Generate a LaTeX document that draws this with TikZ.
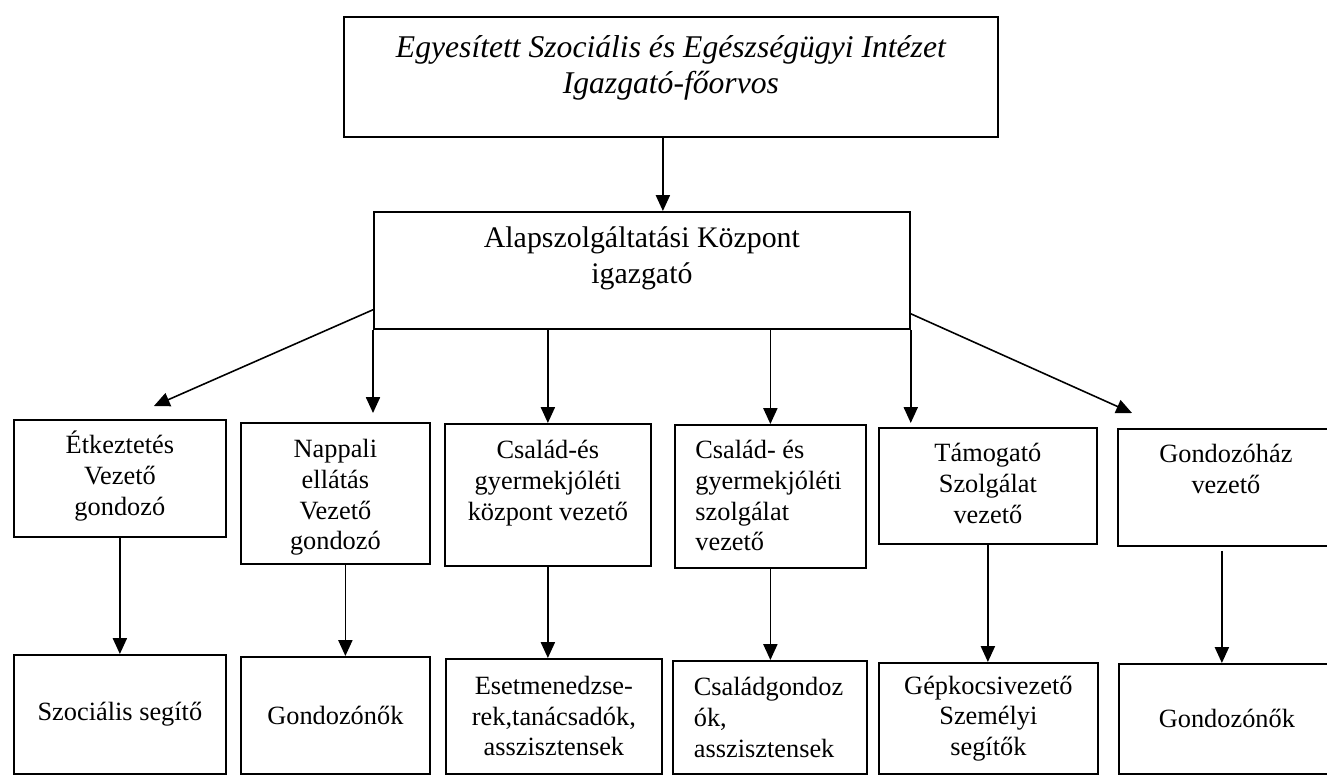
\documentclass[tikz,border=0pt]{standalone}
\usepackage{fontspec}
\setmainfont{Liberation Serif}
\usepackage{tikz}
\usetikzlibrary{arrows.meta,positioning,calc}
\newlength\pxu
\setlength\pxu{0.02cm}
\newcommand{\toptxt}[4]{\parbox[c][#2\pxu][t]{#1\pxu}{\centering\rule{0pt}{#3\pxu}#4}}
\newcommand{\midtxt}[3]{\parbox[c][#2\pxu][c]{#1\pxu}{\centering #3}}

\begin{document}
\begin{tikzpicture}[
  x=0.02cm,y=-0.02cm,
  box/.style={draw,line width=1pt,inner sep=0pt,anchor=north west},
  head/.style={box,font=\fontsize{18}{20.5}\selectfont\itshape},
  unit/.style={box,font=\fontsize{17}{20}\selectfont},
  lead/.style={box,font=\fontsize{15}{17.4}\selectfont},
  arr/.style={-{Triangle[length=9pt,width=8pt]},line width=0.9pt}
]
\useasboundingbox (0,0) rectangle (1327,775);

\node[head] (eszi) at (343,16)  {\toptxt{654}{120}{41}{Egyesített Szociális és Egészségügyi Intézet\\Igazgató-főorvos}};
\node[unit] (alap) at (373,211) {\toptxt{536}{117}{36}{Alapszolgáltatási Központ\\igazgató}};

\node[lead] (etk)     at (13,419)   {\toptxt{212}{117}{34}{Étkeztetés\\Vezető\\gondozó}};
\node[lead] (nappali) at (240,422)  {\toptxt{189}{141}{35}{Nappali\\ellátás\\Vezető\\gondozó}};
\node[lead] (cskozp)  at (444,423)  {\toptxt{206}{142}{35}{Család-és\\gyermekjóléti\\központ vezető}};
\node[lead] (cszolg)  at (674,424)  {\toptxt{191}{143}{34}{\parbox[t]{150\pxu}{\raggedright Család- és\\gyermekjóléti\\szolgálat\\vezető}}};
\node[lead] (tamog)   at (878,427)  {\toptxt{218}{116}{34}{Támogató\\Szolgálat\\vezető}};
\node[lead] (gondhaz) at (1117,428) {\toptxt{216}{117}{34}{Gondozóház\\vezető}};

\node[lead] (szocseg)  at (13,654)   {\midtxt{212}{119}{Szociális segítő}};
\node[lead] (gondozo1) at (240,656)  {\midtxt{189}{117}{Gondozónők}};
\node[lead] (esetm)    at (445,658)  {\midtxt{216}{115}{Esetmenedzse-\\rek,tanácsadók,\\asszisztensek}};
\node[lead] (csgond)   at (672,660)  {\midtxt{194}{113}{\parbox{152\pxu}{\raggedright Családgondoz\\ók,\\asszisztensek}}};
\node[lead] (gepkocsi) at (878,662)  {\midtxt{219}{111}{Gépkocsivezető\\Személyi\\segítők}};
\node[lead] (gondozo2) at (1118,663) {\midtxt{216}{110}{Gondozónők}};

\draw[arr] ([xshift=-0.16cm]eszi.south) -- ([xshift=-0.16cm]eszi.south |- alap.north);
\draw[arr] ($(alap.south west)+(0,-20)$) -- ($(etk.north)+(34,-13)$);
\draw[arr] (alap.south west) -- ($(alap.south west |- nappali.north)+(0,-9)$);
\draw[arr] (alap.south -| cskozp.north) -- (cskozp.north);
\draw[arr] (alap.south -| cszolg.north) -- (cszolg.north);
\draw[arr] (alap.south east) -- ($(alap.south east |- tamog.north)+(0,-4)$);
\draw[arr] ($(alap.south east)+(0,-16)$) -- ($(gondhaz.north west)+(15,-15)$);

\draw[arr] (etk.south) -- (etk.south |- szocseg.north);
\draw[arr] ($(nappali.south)+(10,0)$) -- ($(nappali.south |- gondozo1.north)+(10,0)$);
\draw[arr] (cskozp.south) -- (cskozp.south |- esetm.north);
\draw[arr] (cszolg.south) -- (cszolg.south |- csgond.north);
\draw[arr] (tamog.south) -- (tamog.south |- gepkocsi.north);
\draw[arr] ($(gondhaz.south)+(-4,4)$) -- ($(gondhaz.south |- gondozo2.north)+(-4,0)$);
\end{tikzpicture}
\end{document}
